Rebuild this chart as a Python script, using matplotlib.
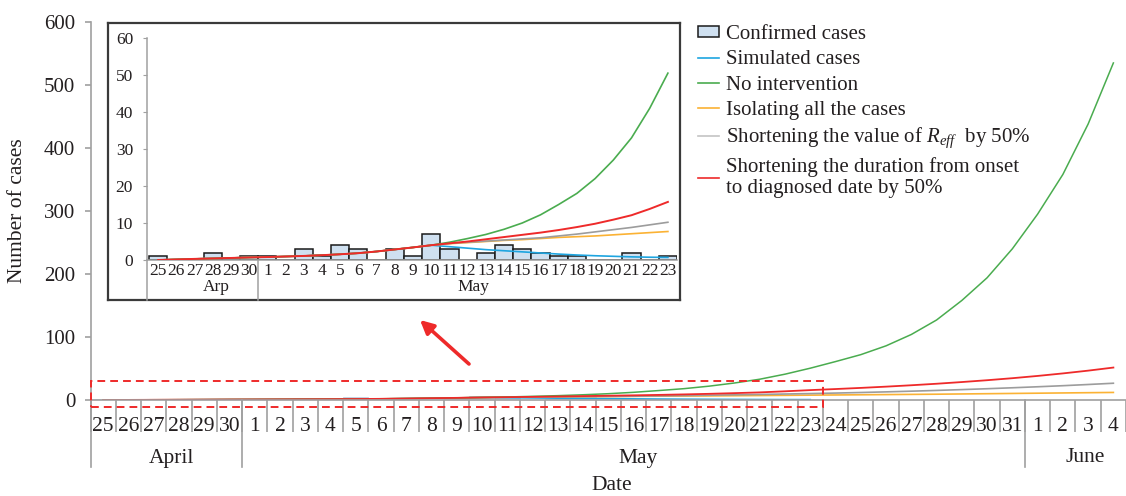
import matplotlib
matplotlib.use('Agg')
import matplotlib.pyplot as plt
from matplotlib.patches import Rectangle, Patch
from matplotlib.lines import Line2D
import numpy as np

plt.rcParams['font.family'] = ['Liberation Serif', 'DejaVu Serif']
plt.rcParams['mathtext.fontset'] = 'custom'
plt.rcParams['mathtext.rm'] = 'Liberation Serif'
plt.rcParams['mathtext.it'] = 'Liberation Serif:italic'

# ---------------- data ----------------
day_labels = ['25', '26', '27', '28', '29', '30'] + [str(d) for d in range(1, 32)] + ['1', '2', '3', '4']
months = ['April', 'May', 'June']
month_lengths = [6, 31, 4]
inset_months = ['Arp', 'May']
inset_month_lengths = [6, 23]

# Apr 25 - May 23
confirmed = [1, 0, 0, 2, 0, 1,
             1, 0, 3, 1, 4, 3, 0, 3, 1, 7, 3, 0, 2, 4, 3, 2, 1, 1, 0, 0, 2, 0, 1]

simulated = [0.0, 0.15, 0.3, 0.42, 0.55, 0.7,
             0.8, 0.95, 1.1, 1.3, 1.55, 1.85, 2.3, 2.85, 3.4, 4.0,
             3.6, 3.2, 2.8, 2.5, 2.2, 1.9, 1.6, 1.35, 1.15, 1.0, 0.85, 0.75, 0.7]

# Apr 25 - Jun 4
no_intervention = [0.0, 0.15, 0.3, 0.42, 0.55, 0.7,
                   0.8, 0.95, 1.1, 1.3, 1.55, 1.85, 2.3, 2.85, 3.4, 4.0,
                   4.8, 5.8, 6.9, 8.3, 10.0, 12.2, 15.0, 18.0, 22.0, 27.0, 33.0, 41.0, 50.5,
                   61, 72, 86, 104, 127, 158, 194, 240,
                   295, 358, 438, 535]
isolating = [0.0, 0.15, 0.3, 0.42, 0.55, 0.7,
             0.8, 0.95, 1.1, 1.3, 1.55, 1.85, 2.3, 2.85, 3.4, 4.0,
             4.4, 4.7, 5.0, 5.3, 5.5, 5.8, 6.1, 6.3, 6.5, 6.8, 7.1, 7.4, 7.7,
             8.0, 8.3, 8.6, 8.9, 9.2, 9.6, 10.0, 10.4,
             10.8, 11.2, 11.6, 12.0]
reff_half = [0.0, 0.15, 0.3, 0.42, 0.55, 0.7,
             0.8, 0.95, 1.1, 1.3, 1.55, 1.85, 2.3, 2.85, 3.4, 4.0,
             4.5, 4.8, 5.1, 5.4, 5.7, 6.0, 6.5, 7.0, 7.6, 8.2, 8.8, 9.5, 10.2,
             11.0, 11.9, 12.9, 14.0, 15.2, 16.5, 17.9, 19.4,
             21.0, 22.7, 24.6, 26.6]
duration_half = [0.0, 0.15, 0.3, 0.42, 0.55, 0.7,
                 0.8, 0.95, 1.1, 1.3, 1.55, 1.85, 2.3, 2.85, 3.4, 4.0,
                 4.5, 5.0, 5.6, 6.2, 6.8, 7.4, 8.1, 8.9, 9.8, 10.9, 12.1, 13.8, 15.7,
                 17.4, 19.2, 21.2, 23.4, 25.8, 28.5, 31.4, 34.6,
                 38.2, 42.2, 46.6, 51.5]

# ---------------- style ----------------
C_BAR = '#cfe0f0'
C_BLUE = '#1ea5e0'
C_GREEN = '#4aac4f'
C_ORANGE = '#fbb234'
C_GRAY = '#9c9c9c'
C_RED = '#ee2a2a'
C_AXIS = '#a0a0a0'
C_TEXT = '#231f20'

W, H = 1126, 496
def fx(px):
    return px / W
def fy(py):
    return 1 - py / H

fig = plt.figure(figsize=(W / 100, H / 100), dpi=100)

# ---------------- main axes ----------------
ax = fig.add_axes([fx(90.5), fy(400), (W - 90.5) / W, (400 - 22) / H])
n_main = len(day_labels)
xm = np.arange(n_main)
ax.bar(np.arange(len(confirmed)), confirmed, width=1.0, color=C_BAR, edgecolor='#b8c8d8', lw=0.5, zorder=1)
ax.plot(xm[:len(simulated)], simulated, color=C_BLUE, lw=1.1, zorder=2)
ax.plot(xm, isolating, color=C_ORANGE, lw=1.2, zorder=2)
ax.plot(xm, reff_half, color=C_GRAY, lw=1.2, zorder=2)
ax.plot(xm, no_intervention, color=C_GREEN, lw=1.1, zorder=2)
ax.plot(xm, duration_half, color=C_RED, lw=1.3, zorder=2)

ax.set_xlim(-0.5, (W - 90.5) / 25.375 - 0.5)
ax.set_ylim(0, 600)
for s in ['top', 'right']:
    ax.spines[s].set_visible(False)
for s in ['left', 'bottom']:
    ax.spines[s].set_color(C_AXIS)
    ax.spines[s].set_linewidth(1.2)
ax.set_yticks(np.arange(0, 601, 100))
ax.tick_params(axis='y', labelsize=15, length=4, color=C_AXIS, width=1.2, pad=7, labelcolor=C_TEXT)
ax.set_xticks(xm)
ax.set_xticklabels(day_labels)
ax.tick_params(axis='x', which='major', labelsize=15.5, length=0, pad=12, labelcolor=C_TEXT)
ax.set_xticks(np.arange(-0.5, n_main - 0.4, 1), minor=True)
ax.tick_params(axis='x', which='minor', length=23, color=C_AXIS, width=1.2, direction='out')

tr = ax.get_xaxis_transform()
ah = 378.0
bounds = np.cumsum([0] + month_lengths) - 0.5
for b in bounds[:-1]:
    ax.plot([b, b], [0, -67 / ah], transform=tr, color=C_AXIS, lw=1.2, clip_on=False)
month_pos = [2.7, 21.2, 38.9]
for name, p in zip(months, month_pos):
    ax.text(p, -58 / ah, name, transform=tr, ha='center', va='center', fontsize=15.5, color=C_TEXT)

fig.text(fx(612), fy(486), 'Date', ha='center', va='center', fontsize=15.5, color=C_TEXT)
fig.text(fx(18), fy(211), 'Number of cases', rotation=90, ha='center', va='center', fontsize=15.5, color=C_TEXT)

# dashed zoom rectangle
ax.add_patch(Rectangle((-0.5, -11), len(confirmed), 41, fill=False, ec=C_RED,
                       ls=(0, (4, 2.6)), lw=1.4, clip_on=False, zorder=5))

# arrow
ax.annotate('', xy=(420, H - 320), xycoords='figure pixels', xytext=(469, H - 364),
            textcoords='figure pixels',
            arrowprops=dict(arrowstyle='-|>', color=C_RED, lw=2.6, mutation_scale=20,
                            shrinkA=0, shrinkB=0))

# ---------------- inset ----------------
frame = fig.add_axes([fx(108), fy(300), (680 - 108) / W, (300 - 23) / H], zorder=3)
frame.set_xticks([])
frame.set_yticks([])
frame.set_facecolor('white')
for s in frame.spines.values():
    s.set_color('#3a3a3a')
    s.set_linewidth(1.6)

iax = fig.add_axes([fx(147), fy(260), (677 - 147) / W, (260 - 38) / H], zorder=4)
iax.patch.set_alpha(0)
ni = len(confirmed)
xi = np.arange(ni)
iax.bar(xi, confirmed, width=1.0, color=C_BAR, edgecolor='#1a1a1a', lw=1.1, zorder=2)
iax.plot(xi, simulated, color=C_BLUE, lw=1.2, zorder=3)
iax.plot(xi, isolating[:ni], color=C_ORANGE, lw=1.2, zorder=3)
iax.plot(xi, reff_half[:ni], color=C_GRAY, lw=1.2, zorder=3)
iax.plot(xi, no_intervention[:ni], color=C_GREEN, lw=1.2, zorder=3)
iax.plot(xi, duration_half[:ni], color=C_RED, lw=1.4, zorder=4)
iax.set_xlim(-0.61, 28.5)
iax.set_ylim(0, 60)
for s in ['top', 'right']:
    iax.spines[s].set_visible(False)
for s in ['left', 'bottom']:
    iax.spines[s].set_color(C_AXIS)
    iax.spines[s].set_linewidth(1.1)
iax.set_yticks(np.arange(0, 61, 10))
iax.tick_params(axis='y', labelsize=12.5, length=3, color=C_AXIS, pad=7, labelcolor=C_TEXT)
iax.set_xticks(xi)
iax.set_xticklabels(day_labels[:ni])
iax.tick_params(axis='x', labelsize=12.5, length=0, pad=2, labelcolor=C_TEXT)
itr = iax.get_xaxis_transform()
iah = 222.0
iax.plot([0, 0], [0, -40 / iah], transform=iax.transAxes, color=C_AXIS, lw=1.1, clip_on=False)
ib = np.cumsum([0] + inset_month_lengths) - 0.5
iax.plot([ib[1], ib[1]], [0, -40 / iah], transform=itr, color=C_AXIS, lw=1.1, clip_on=False)
for name, p in zip(inset_months, [3.2, 17.3]):
    iax.text(p, -27 / iah, name, transform=itr, ha='center', va='center', fontsize=12.5, color=C_TEXT)

# ---------------- legend ----------------
handles = [
    Patch(facecolor=C_BAR, edgecolor='#1a1a1a', lw=1.1),
    Line2D([], [], color=C_BLUE, lw=1.2),
    Line2D([], [], color=C_GREEN, lw=1.2),
    Line2D([], [], color=C_ORANGE, lw=1.2),
    Line2D([], [], color='#c4c4c4', lw=1.2),
    Line2D([], [], color=C_RED, lw=1.2),
]
labels = ['Confirmed cases', 'Simulated cases', 'No intervention', 'Isolating all the cases',
          r'Shortening the value of $R_{eff}$  by 50%',
          'Shortening the duration from onset\nto diagnosed date by 50%']
leg = fig.legend(handles, labels, loc='upper left', bbox_to_anchor=(fx(698), fy(25)),
                 frameon=False, fontsize=15, handlelength=1.0, handleheight=0.45,
                 handletextpad=0.35, labelspacing=0.3, borderaxespad=0, borderpad=0)
for t in leg.get_texts():
    t.set_color(C_TEXT)
    t.set_linespacing(1.2)

fig.savefig('out.png', dpi=100)
